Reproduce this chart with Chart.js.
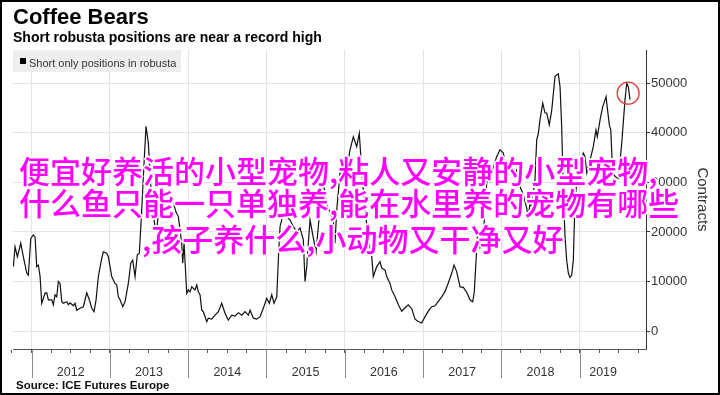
<!DOCTYPE html>
<html>
<head>
<meta charset="utf-8">
<script src="https://cdn.jsdelivr.net/npm/chart.js@4.4.1/dist/chart.umd.min.js"></script>
<style>
  body { margin: 0; background: #fff; }
  #frame { position: relative; width: 720px; height: 395px; overflow: hidden; background: #fff;
           font-family: "Liberation Sans", Arial, sans-serif; }
  #chart { position: absolute; left: 0; top: 0; }
  .title    { position: absolute; left: 13px; top: 6px;  font-size: 22px; line-height: 22px; font-weight: bold; color: #000; }
  .subtitle { position: absolute; left: 13px; top: 30px; font-size: 14px; line-height: 14px; font-weight: bold; color: #000; }
  .legend   { position: absolute; left: 13px; top: 50px; width: 168px; height: 22px; background: #eeeeee; }
  .legend .swatch { position: absolute; left: 7px; top: 8px; width: 6px; height: 6px; background: #000; }
  .legend .label  { position: absolute; left: 16px; top: 7px; font-size: 11px; line-height: 12px; color: #333; white-space: nowrap; }
  .source   { position: absolute; left: 16px; top: 380px; font-size: 11.5px; line-height: 11.5px; font-weight: bold; color: #111; }
  .spam     { position: absolute; font-family: "Noto Sans CJK SC", sans-serif; font-size: 31px; line-height: 31px;
              font-weight: 500; color: #ff00ff; white-space: nowrap;
              text-shadow: 0 0 2px #fff, 1px 1px 0 #fff, -1px -1px 0 #fff, 1px -1px 0 #fff, -1px 1px 0 #fff,
                           2px 0 0 #fff, -2px 0 0 #fff, 0 2px 0 #fff, 0 -2px 0 #fff; }
  .border   { position: absolute; left: 0; top: 0; width: 720px; height: 395px; box-sizing: border-box;
              border: 2px solid #000; pointer-events: none; }
</style>
</head>
<body>
<div id="frame">
  <canvas id="chart" width="720" height="395"></canvas>
  <div class="title">Coffee Bears</div>
  <div class="subtitle">Short robusta positions are near a record high</div>
  <div class="legend"><div class="swatch"></div><div class="label">Short only positions in robusta</div></div>
  <div class="source">Source: ICE Futures Europe</div>
  <div class="spam" style="left:19px; top:154px">便宜好养活的小型宠物,粘人又安静的小型宠物,</div>
  <div class="spam" style="left:19px; top:186px">什么鱼只能一只单独养,能在水里养的宠物有哪些</div>
  <div class="spam" style="left:142px; top:222px">,孩子养什么,小动物又干净又好</div>
  <div class="border"></div>
</div>

<script>
/* ── Data: weekly-ish readings, decimal years vs. short contracts ── */
const dates = [
  2011.768, 2011.789, 2011.819, 2011.862, 2011.895, 2011.939, 2011.959, 2011.990, 2012.023, 2012.045,
  2012.066, 2012.087, 2012.109, 2012.130, 2012.172, 2012.194, 2012.215, 2012.258, 2012.278, 2012.300,
  2012.322, 2012.342, 2012.364, 2012.386, 2012.406, 2012.450, 2012.470, 2012.492, 2012.534, 2012.556,
  2012.577, 2012.619, 2012.662, 2012.705, 2012.738, 2012.769, 2012.798, 2012.824, 2012.853, 2012.897,
  2012.917, 2012.960, 2012.981, 2013.024, 2013.066, 2013.088, 2013.109, 2013.130, 2013.165, 2013.194,
  2013.236, 2013.267, 2013.292, 2013.322, 2013.351, 2013.377, 2013.407, 2013.428, 2013.462, 2013.492,
  2013.535, 2013.577, 2013.599, 2013.619, 2013.667, 2013.718, 2013.769, 2013.811, 2013.845, 2013.875,
  2013.918, 2013.931, 2013.948, 2013.982, 2014.003, 2014.024, 2014.046, 2014.088, 2014.110, 2014.130,
  2014.152, 2014.174, 2014.194, 2014.238, 2014.258, 2014.301, 2014.344, 2014.386, 2014.429, 2014.471,
  2014.513, 2014.557, 2014.599, 2014.641, 2014.685, 2014.727, 2014.769, 2014.791, 2014.833, 2014.876,
  2014.918, 2014.960, 2015.004, 2015.037, 2015.068, 2015.097, 2015.132, 2015.152, 2015.174, 2015.216,
  2015.259, 2015.301, 2015.340, 2015.387, 2015.429, 2015.471, 2015.493, 2015.515, 2015.535, 2015.557,
  2015.599, 2015.634, 2015.663, 2015.706, 2015.727, 2015.770, 2015.812, 2015.854, 2015.876, 2015.898,
  2015.940, 2015.982, 2016.026, 2016.046, 2016.068, 2016.110, 2016.153, 2016.186, 2016.217, 2016.259,
  2016.301, 2016.345, 2016.365, 2016.409, 2016.451, 2016.473, 2016.515, 2016.536, 2016.579, 2016.600,
  2016.643, 2016.685, 2016.728, 2016.770, 2016.812, 2016.856, 2016.898, 2016.940, 2016.983, 2017.026,
  2017.068, 2017.111, 2017.153, 2017.195, 2017.239, 2017.281, 2017.323, 2017.367, 2017.396, 2017.430,
  2017.473, 2017.515, 2017.558, 2017.600, 2017.635, 2017.655, 2017.673, 2017.693, 2017.728, 2017.770,
  2017.792, 2017.817, 2017.856, 2017.894, 2017.941, 2017.983, 2018.026, 2018.069, 2018.111, 2018.153,
  2018.197, 2018.239, 2018.281, 2018.324, 2018.345, 2018.367, 2018.388, 2018.430, 2018.452, 2018.473,
  2018.494, 2018.529, 2018.558, 2018.580, 2018.613, 2018.644, 2018.686, 2018.728, 2018.750, 2018.771,
  2018.792, 2018.814, 2018.835, 2018.856, 2018.877, 2018.899, 2018.920, 2018.941, 2018.983, 2019.027,
  2019.047, 2019.069, 2019.091, 2019.133, 2019.175, 2019.209, 2019.226, 2019.261, 2019.295, 2019.312,
  2019.338, 2019.354, 2019.380, 2019.398, 2019.411, 2019.424, 2019.453, 2019.495, 2019.538, 2019.580,
  2019.602, 2019.622, 2019.644
];

const shortContracts = [
  13000, 17000, 15000, 17700, 15000, 11700, 11300, 18700, 19400, 19000,
  13000, 13300, 11000,  5600,  7600,  7700,  6300,  6300,  5300,  7300,
   6900, 10000,  9600,  5900,  5600,  5900,  5300,  5700,  5100,  5600,
   4200,  4600,  4900,  7700,  6300,  4600,  3900,  6300, 11000, 14700,
  16000, 15700, 15000, 11000,  9600,  9300,  6900,  6300,  4900,  5900,
   9600, 13700, 14300, 11000, 15400, 15700, 24400, 31200, 41300, 37900,
  25800, 21100, 20400, 23800, 24800, 26500, 26900, 25900, 24000, 23100,
  17700, 13700, 17700,  7600,  8300,  7900,  8900,  8300,  9300,  7900,
   7300,  4200,  3900,  1900,  2600,  2400,  3200,  3900,  5600,  3600,
   2200,  3200,  3000,  3700,  3200,  3900,  3200,  4200,  2600,  2400,
   2900,  4600,  6600,  5600,  7300,  5600,  6900, 14300, 21100, 23800,
  23100, 22400, 21200, 20000, 20800, 18400, 10000, 13000, 17700, 22400,
  18800, 16000, 21100, 28500, 29900, 25500, 24000, 22400, 17700, 24400,
  31900, 31200, 35200, 34500, 36600, 39200, 37200, 39900, 32500, 24400,
  19000, 15000, 11000, 13000, 14000, 12700, 12300, 11000,  9600,  8300,
   6900,  5300,  4000,  4700,  5300,  4500,  2400,  1900,  1600,  2900,
   4000,  4900,  5100,  6000,  6900,  8000,  9700, 11700, 13300, 12000,
   8900,  8800,  7800,  6300,  5900,  7900, 13000, 18800, 16800, 18400,
  25500, 30500, 30100, 32900, 35200, 36600, 35900, 31900, 34100, 31200,
  32500, 29100, 27500, 24800, 23000, 25800, 25100, 30500, 38600, 39900,
  42600, 46000, 44000, 44000, 41600, 44600, 51400, 51900, 49300, 41300,
  27800, 19000, 14300, 11700, 10800, 11300, 14300, 26500, 32500, 34500,
  35900, 35200, 31900, 34500, 37200, 40600, 39200, 42600, 45300, 46000,
  47300, 45000, 41600, 40600, 35900, 31900, 31200, 30800, 37900, 46700,
  50000, 49300, 46700
];

/* ── Axis ticks ─────────────────────────────────────────── */
const yearStarts = [2012, 2013, 2014, 2015, 2016, 2017, 2018, 2019];
const yearLabels = ["2012", "2013", "2014", "2015", "2016", "2017", "2018", "2019"];
const yearLabelAt = [2012.5, 2013.5, 2014.5, 2015.5, 2016.5, 2017.5, 2018.5, 2019.3];
const yTicks = [0, 10000, 20000, 30000, 40000, 50000];

const X_MIN = 2011.7637, X_MAX = 2019.848;
const Y_MIN = -3630,     Y_MAX = 56720;

// the red ring marking the latest peak
const ringAt = { x: 2019.62, y: 48000 };

const near = (a, b) => Math.abs(a - b) < 1e-6;
const isQuarter = v => near(v * 4, Math.round(v * 4));
const labelIndex = v => yearLabelAt.findIndex(p => near(p, v));

/* ── Plugins: long year separators under the axis + ring ── */
const yearSeparators = {
  id: "yearSeparators",
  afterDraw(chart) {
    const { ctx, chartArea, scales } = chart;
    ctx.save();
    ctx.strokeStyle = "#8a8a8a";
    ctx.lineWidth = 1;
    yearStarts.forEach(yr => {
      const x = Math.round(scales.x.getPixelForValue(yr)) + 0.5;
      ctx.beginPath();
      ctx.moveTo(x, chartArea.bottom);
      ctx.lineTo(x, chartArea.bottom + 29);
      ctx.stroke();
    });
    ctx.restore();
  },
};

const peakRing = {
  id: "peakRing",
  afterDatasetsDraw(chart) {
    const { ctx, scales } = chart;
    ctx.save();
    ctx.strokeStyle = "#e2423c";
    ctx.lineWidth = 1.3;
    ctx.beginPath();
    ctx.arc(scales.x.getPixelForValue(ringAt.x), scales.y.getPixelForValue(ringAt.y), 11, 0, Math.PI * 2);
    ctx.stroke();
    ctx.restore();
  },
};

Chart.defaults.font.family = '"Liberation Sans", Arial, sans-serif';

new Chart(document.getElementById("chart"), {
  type: "line",
  data: {
    datasets: [{
      label: "Short only positions in robusta",
      data: dates.map((d, i) => ({ x: d, y: shortContracts[i] })),
      borderColor: "#111",
      borderWidth: 1.2,
      pointRadius: 0,
      tension: 0,
      fill: false,
    }],
  },
  options: {
    responsive: false,
    devicePixelRatio: 1,
    animation: false,
    events: [],
    layout: { padding: { left: 13, top: 50, right: 7, bottom: 0 } },
    plugins: { legend: { display: false }, tooltip: { enabled: false } },
    scales: {
      x: {
        type: "linear",
        position: "bottom",
        min: X_MIN,
        max: X_MAX,
        afterFit: s => { s.height = 46; },
        afterBuildTicks: s => {
          const vals = [];
          for (let q = 2011.75; q <= X_MAX; q += 0.25) vals.push(+q.toFixed(2));
          vals.push(2019.3);
          s.ticks = vals.sort((a, b) => a - b).map(v => ({ value: v }));
        },
        grid: {
          drawOnChartArea: true,
          tickLength: 4,
          color: c => (c.tick && yearStarts.some(y => near(y, c.tick.value))) ? "#e4e4e4" : "rgba(0,0,0,0)",
          tickColor: c => (c.tick && isQuarter(c.tick.value)) ? "#555" : "rgba(0,0,0,0)",
        },
        border: { display: true, color: "#555", width: 1 },
        ticks: {
          autoSkip: false,
          maxRotation: 0,
          minRotation: 0,
          padding: 12,
          color: "#333",
          font: { size: 12.5 },
          callback: v => { const i = labelIndex(v); return i >= 0 ? yearLabels[i] : ""; },
        },
      },
      y: {
        type: "linear",
        position: "right",
        min: Y_MIN,
        max: Y_MAX,
        afterFit: s => { s.width = 67; },
        afterBuildTicks: s => { s.ticks = yTicks.map(v => ({ value: v })); },
        grid: { color: "#e4e4e4", tickColor: "#333", tickLength: 4 },
        border: { display: true, color: "#333", width: 1 },
        ticks: { padding: 1, color: "#333", font: { size: 13 }, callback: v => String(v) },
        title: { display: true, text: "Contracts", color: "#333", font: { size: 15 }, padding: { top: 2, bottom: 0 } },
      },
    },
  },
  plugins: [yearSeparators, peakRing],
});
</script>
</body>
</html>
